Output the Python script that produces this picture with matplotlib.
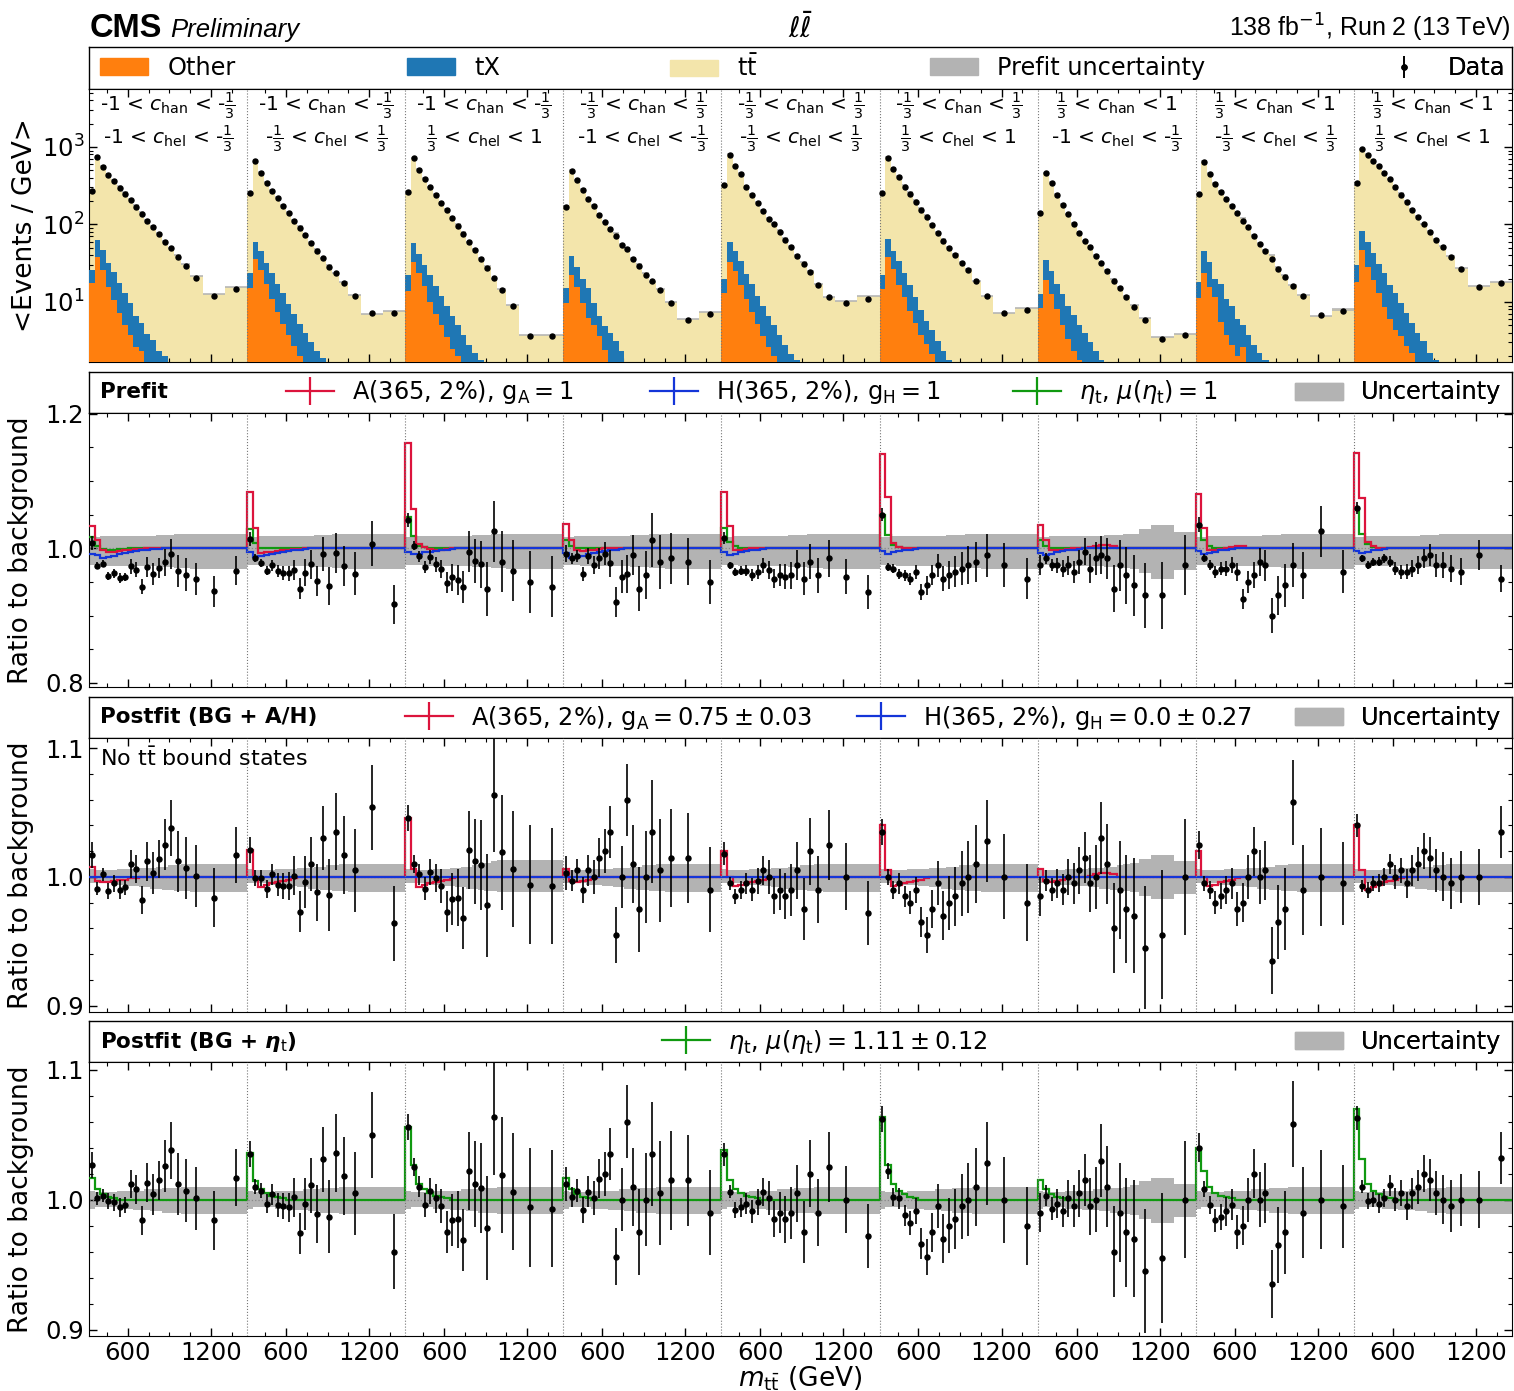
import numpy as np
import matplotlib
matplotlib.use("Agg")
import matplotlib.pyplot as plt
from matplotlib.lines import Line2D
from matplotlib.patches import Patch
from matplotlib.ticker import FixedLocator, MultipleLocator, NullFormatter, FixedFormatter

plt.rcParams['font.family'] = ['DejaVu Sans']
plt.rcParams['mathtext.fontset'] = 'dejavusans'

# ------------------------------------------------------------------ data
mtt_edges = [320, 360, 400, 440, 480, 520, 560, 600, 640, 680, 720, 760, 800,
             845, 890, 935, 985, 1050, 1140, 1300, 1460]
tick_major_gev = [600, 1200]
tick_minor_gev = [450, 750, 900, 1050, 1350]

chan_labels = [r"-1 < $c_\mathrm{han}$ < -$\frac{1}{3}$"] * 3 + \
              [r"-$\frac{1}{3}$ < $c_\mathrm{han}$ < $\frac{1}{3}$"] * 3 + \
              [r"$\frac{1}{3}$ < $c_\mathrm{han}$ < 1"] * 3
chel_labels = [r"-1 < $c_\mathrm{hel}$ < -$\frac{1}{3}$",
               r"-$\frac{1}{3}$ < $c_\mathrm{hel}$ < $\frac{1}{3}$",
               r"$\frac{1}{3}$ < $c_\mathrm{hel}$ < 1"] * 3

# top panel: <events / GeV>
data_top = [
    [273, 736, 557, 435, 361, 298, 248, 207, 170, 137, 112, 92, 75, 60, 49, 38.5, 29.4, 20.6, 11.9, 14.9],
    [253, 666, 466, 340, 273, 218, 173, 139, 111, 90, 73, 58, 46, 36.5, 28.6, 23.4, 17.4, 11.9, 7.1, 7.1],
    [262, 720, 510, 385, 300, 240, 190, 152, 120, 96, 76, 60, 47, 36, 27.5, 20.5, 14.3, 8.9, 3.6, 3.6],
    [170, 494, 375, 279, 211, 173, 134, 108, 88, 71, 54, 48, 36, 29, 22.5, 18.5, 14.3, 9.8, 5.9, 7.0],
    [323, 789, 569, 449, 308, 240, 188, 151, 117, 101, 81, 63, 51, 39, 31, 24.4, 16.6, 11.5, 9.8, 11.0],
    [258, 714, 525, 406, 308, 248, 197, 154, 124, 97, 77, 62, 49, 40, 31.8, 25.8, 18.5, 11.9, 7.1, 7.9],
    [142, 457, 340, 243, 177, 135, 101, 78.5, 61.8, 50.7, 39.2, 31.5, 25.4, 18.8, 15.0, 11.5, 8.7, 5.9, 3.3, 3.75],
    [247, 640, 449, 333, 263, 211, 173, 142, 112, 92, 71, 56, 46, 36, 26.4, 21.2, 16.1, 11.9, 6.7, 7.7],
    [346, 934, 781, 666, 569, 466, 383, 302, 243, 195, 154, 126, 101, 81, 63, 51, 38.5, 26.4, 15.8, 17.4],
]
total_top = [
    [271, 756, 570, 454, 375, 312, 259, 213, 176, 145, 115, 96, 77, 61, 49.5, 40, 30.5, 21.6, 12.7, 15.4],
    [250, 676, 477, 352, 280, 226, 180, 144, 115, 96, 76, 59.5, 48.4, 36.8, 30.3, 23.6, 17.9, 12.4, 7.05, 7.75],
    [252, 717, 516, 396, 304, 246, 196, 160, 125, 101, 81, 60.3, 47.9, 36.9, 29.3, 20.0, 14.6, 9.2, 3.8, 3.8],
    [171, 501, 380, 290, 214, 177, 136, 109, 90, 77, 56.4, 49.9, 36.4, 30.9, 23.4, 18.3, 14.6, 9.95, 6.0, 7.4],
    [318, 809, 590, 464, 318, 250, 195, 155, 121, 106, 84, 66, 53, 40, 32.5, 24.9, 17.3, 11.7, 10.2, 11.8],
    [246, 734, 541, 422, 321, 260, 204, 165, 131, 101, 79, 65, 51, 41.4, 32.8, 26.5, 18.9, 12.0, 7.3, 8.3],
    [146, 464, 349, 249, 182, 138, 105, 80, 62, 52.3, 39.8, 31.8, 25.8, 20.0, 15.4, 12.0, 9.2, 6.3, 3.55, 3.85],
    [239, 650, 460, 345, 271, 218, 177, 147, 121, 97, 74, 57, 47, 40, 28.4, 22.4, 16.5, 12.4, 6.5, 8.0],
    [326, 948, 801, 680, 581, 473, 391, 311, 252, 202, 159, 129, 102.5, 82, 64.6, 52.3, 39.7, 27.4, 16.0, 18.2],
]
other_top = [
    [17.4, 38.5, 26, 15.5, 10.6, 7.2, 5.0, 3.7, 2.6, 2.3, 1, 1, 1, 1, 1, 1, 1, 1, 1, 1],
    [15, 36, 26, 17, 11, 7.5, 5.2, 3.8, 2.7, 2.0, 1, 1, 1, 1, 1, 1, 1, 1, 1, 1],
    [14, 33, 24, 16, 10, 7, 5, 3.5, 2.5, 2.0, 1, 1, 1, 1, 1, 1, 1, 1, 1, 1],
    [9.8, 22, 15.6, 9.6, 6.2, 5.0, 3.6, 2.4, 1, 1, 1, 1, 1, 1, 1, 1, 1, 1, 1, 1],
    [13, 33, 25, 16.5, 11, 7.5, 5.2, 3.6, 2.6, 2.0, 1, 1, 1, 1, 1, 1, 1, 1, 1, 1],
    [14.5, 37.6, 26.4, 16.6, 11.7, 7.7, 5.4, 3.7, 2.9, 2.1, 1, 1, 1, 1, 1, 1, 1, 1, 1, 1],
    [8.3, 19.3, 12.7, 8.1, 5.0, 3.3, 2.3, 1.8, 1, 1, 1, 1, 1, 1, 1, 1, 1, 1, 1, 1],
    [11.3, 23.4, 15.5, 11.7, 5.5, 3.8, 2.8, 2.0, 2.6, 1.5, 1, 1, 1, 1, 1, 1, 1, 1, 1, 1],
    [18.2, 47, 28.6, 19.3, 13, 8.7, 6.0, 4.3, 3.6, 2.7, 2.2, 1, 1, 1, 1, 1, 1, 1, 1, 1],
]
other_tx_top = [
    [25.9, 63, 47, 32, 24.5, 17.7, 13, 9.6, 6.6, 5.3, 3.9, 3.2, 2.3, 2.0, 1, 1, 1, 1, 1, 1],
    [24, 60, 46, 32, 24, 17, 13, 9.5, 7, 5.2, 4, 3, 2.3, 1.9, 1, 1, 1, 1, 1, 1],
    [22, 58, 42, 30, 22, 16, 12, 9, 6.5, 5, 3.7, 2.8, 2.2, 1.8, 1, 1, 1, 1, 1, 1],
    [15, 39, 28.5, 19.5, 15, 9.6, 6.6, 4.9, 4.0, 3.1, 2.3, 1, 1, 1, 1, 1, 1, 1, 1, 1],
    [20, 60, 46, 34, 23, 17, 12, 9, 6.5, 5, 3.8, 2.8, 2.1, 1.8, 1, 1, 1, 1, 1, 1],
    [22.3, 64.5, 46, 34, 23.4, 16.6, 11.5, 7.9, 5.6, 4.3, 3.1, 2.3, 1.8, 1, 1, 1, 1, 1, 1, 1],
    [12.7, 35, 25, 17, 12.5, 8.9, 6.8, 5.1, 4.0, 3.0, 2.3, 1.8, 1, 1, 1, 1, 1, 1, 1, 1],
    [18.2, 46, 33, 19.5, 17, 11, 9, 6, 5, 3.8, 2.8, 2.2, 1.8, 1, 1, 1, 1, 1, 1, 1],
    [30, 82, 60, 42.4, 31, 23.4, 16.6, 13, 9.6, 7.3, 5.4, 4.0, 3.1, 2.2, 1.8, 1, 1, 1, 1, 1],
]

# ratio panels: data / background
ratio_prefit = [
    [1.008, 0.974, 0.977, 0.959, 0.963, 0.956, 0.957, 0.973, 0.968, 0.943, 0.972, 0.962, 0.971, 0.979, 0.992, 0.966, 0.961, 0.954, 0.936, 0.967],
    [1.014, 0.985, 0.978, 0.967, 0.975, 0.966, 0.963, 0.963, 0.968, 0.940, 0.964, 0.976, 0.951, 0.992, 0.944, 0.993, 0.974, 0.962, 1.007, 0.917],
    [1.042, 1.004, 0.988, 0.972, 0.987, 0.976, 0.969, 0.949, 0.957, 0.953, 0.943, 0.995, 0.981, 0.976, 0.940, 1.025, 0.980, 0.967, 0.950, 0.943],
    [0.992, 0.985, 0.988, 0.962, 0.988, 0.975, 0.985, 0.992, 0.978, 0.920, 0.958, 0.962, 0.990, 0.940, 0.960, 1.012, 0.980, 0.985, 0.980, 0.950],
    [1.015, 0.975, 0.965, 0.967, 0.967, 0.960, 0.965, 0.975, 0.968, 0.955, 0.960, 0.958, 0.960, 0.975, 0.955, 0.980, 0.960, 0.985, 0.958, 0.935],
    [1.050, 0.972, 0.970, 0.962, 0.960, 0.955, 0.965, 0.935, 0.945, 0.960, 0.975, 0.955, 0.960, 0.965, 0.970, 0.975, 0.980, 0.990, 0.975, 0.955],
    [0.975, 0.985, 0.975, 0.975, 0.970, 0.975, 0.965, 0.980, 0.995, 0.970, 0.985, 0.990, 0.985, 0.940, 0.975, 0.960, 0.945, 0.930, 0.930, 0.975],
    [1.035, 0.985, 0.975, 0.965, 0.970, 0.970, 0.975, 0.965, 0.925, 0.950, 0.960, 0.980, 0.975, 0.900, 0.930, 0.945, 0.975, 0.960, 1.025, 0.965],
    [1.060, 0.985, 0.975, 0.980, 0.980, 0.985, 0.980, 0.970, 0.965, 0.965, 0.970, 0.975, 0.985, 0.990, 0.975, 0.975, 0.970, 0.965, 0.990, 0.955],
]
ratio_post_ah = [
    [1.017, 0.991, 1.002, 0.989, 0.995, 0.990, 0.992, 1.010, 1.006, 0.982, 1.012, 1.003, 1.014, 1.025, 1.038, 1.012, 1.007, 1.001, 0.984, 1.017],
    [1.021, 0.999, 0.999, 0.991, 1.002, 0.994, 0.993, 0.993, 1.001, 0.973, 0.996, 1.010, 0.988, 1.030, 0.986, 1.035, 1.017, 1.005, 1.054, 0.964],
    [1.046, 1.010, 1.002, 0.991, 1.004, 0.999, 0.993, 0.973, 0.983, 0.984, 0.968, 1.021, 1.012, 1.009, 0.978, 1.064, 1.019, 1.006, 0.994, 0.993],
    [1.003, 0.997, 1.005, 0.990, 1.005, 1.000, 1.015, 1.020, 1.035, 0.955, 1.000, 1.060, 1.010, 0.975, 1.000, 1.035, 1.005, 1.015, 1.015, 0.990],
    [1.018, 0.995, 0.985, 0.990, 0.995, 0.990, 0.997, 1.005, 1.000, 0.985, 0.990, 0.985, 0.990, 1.005, 0.975, 1.020, 0.990, 1.025, 1.000, 0.972],
    [1.035, 1.000, 0.990, 0.995, 0.985, 0.980, 0.990, 0.965, 0.955, 0.975, 0.995, 0.970, 0.980, 0.985, 0.995, 1.000, 1.010, 1.028, 1.000, 0.980],
    [0.985, 0.997, 0.990, 0.995, 0.990, 1.000, 0.995, 1.005, 1.015, 0.995, 1.000, 1.030, 1.010, 0.960, 0.990, 0.975, 0.970, 0.945, 0.955, 1.000],
    [1.025, 0.995, 0.990, 0.980, 0.985, 0.990, 0.995, 0.975, 0.980, 1.000, 1.020, 1.000, 1.005, 0.935, 0.965, 0.975, 1.058, 0.990, 1.000, 0.995],
    [1.040, 0.993, 0.990, 0.995, 0.995, 1.000, 1.010, 1.000, 1.005, 0.995, 1.005, 1.010, 1.020, 1.015, 1.005, 1.000, 0.995, 1.000, 1.000, 1.035],
]
ratio_post_eta = [
    [1.027, 1.001, 1.003, 0.999, 0.998, 0.994, 0.996, 1.012, 1.008, 0.984, 1.013, 1.004, 1.015, 1.026, 1.038, 1.012, 1.007, 1.001, 0.984, 1.017],
    [1.035, 1.010, 1.007, 0.997, 1.004, 0.996, 0.995, 0.994, 1.002, 0.974, 0.997, 1.011, 0.989, 1.031, 0.987, 1.036, 1.018, 1.005, 1.050, 0.960],
    [1.056, 1.025, 1.010, 0.996, 1.007, 1.001, 0.995, 0.975, 0.984, 0.985, 0.969, 1.022, 1.012, 1.009, 0.978, 1.064, 1.019, 1.006, 0.994, 0.993],
    [1.012, 1.002, 1.007, 0.992, 1.006, 1.001, 1.016, 1.020, 1.035, 0.956, 1.000, 1.060, 1.010, 0.975, 1.000, 1.035, 1.005, 1.015, 1.015, 0.990],
    [1.035, 1.006, 0.992, 0.994, 0.997, 0.991, 0.998, 1.006, 1.001, 0.985, 0.990, 0.985, 0.990, 1.005, 0.975, 1.020, 0.990, 1.025, 1.000, 0.972],
    [1.062, 1.022, 1.002, 1.001, 0.988, 0.982, 0.991, 0.966, 0.956, 0.975, 0.995, 0.970, 0.980, 0.985, 0.995, 1.000, 1.010, 1.028, 1.000, 0.980],
    [0.990, 1.003, 0.993, 0.997, 0.991, 1.001, 0.995, 1.005, 1.015, 0.995, 1.000, 1.030, 1.010, 0.960, 0.990, 0.975, 0.970, 0.945, 0.955, 1.000],
    [1.040, 1.008, 0.996, 0.984, 0.987, 0.991, 0.996, 0.975, 0.980, 1.000, 1.020, 1.000, 1.005, 0.935, 0.965, 0.975, 1.058, 0.990, 1.000, 0.995],
    [1.063, 1.010, 0.999, 1.000, 0.997, 1.001, 1.011, 1.000, 1.005, 0.995, 1.005, 1.010, 1.020, 1.015, 1.005, 1.000, 0.995, 1.000, 1.000, 1.032],
]
ratio_err = [
    [0.010, 0.005, 0.005, 0.0065, 0.0065, 0.0075, 0.006, 0.011, 0.011, 0.011, 0.015, 0.016, 0.015, 0.020, 0.022, 0.024, 0.024, 0.024, 0.023, 0.022],
    [0.010, 0.006, 0.006, 0.007, 0.008, 0.009, 0.010, 0.011, 0.015, 0.016, 0.020, 0.021, 0.022, 0.025, 0.028, 0.030, 0.030, 0.032, 0.033, 0.029],
    [0.010, 0.007, 0.008, 0.009, 0.010, 0.011, 0.013, 0.016, 0.020, 0.022, 0.024, 0.030, 0.033, 0.035, 0.040, 0.045, 0.045, 0.045, 0.046, 0.045],
    [0.013, 0.008, 0.009, 0.010, 0.012, 0.013, 0.015, 0.017, 0.020, 0.022, 0.024, 0.028, 0.030, 0.033, 0.036, 0.040, 0.040, 0.038, 0.035, 0.033],
    [0.009, 0.005, 0.006, 0.007, 0.008, 0.009, 0.010, 0.011, 0.013, 0.014, 0.016, 0.018, 0.020, 0.022, 0.024, 0.026, 0.026, 0.027, 0.026, 0.025],
    [0.010, 0.006, 0.007, 0.008, 0.008, 0.009, 0.010, 0.012, 0.014, 0.015, 0.017, 0.019, 0.021, 0.023, 0.025, 0.028, 0.030, 0.032, 0.033, 0.030],
    [0.015, 0.008, 0.009, 0.011, 0.012, 0.014, 0.016, 0.018, 0.020, 0.022, 0.025, 0.028, 0.031, 0.035, 0.038, 0.042, 0.045, 0.048, 0.050, 0.045],
    [0.011, 0.006, 0.007, 0.009, 0.010, 0.011, 0.012, 0.013, 0.015, 0.017, 0.019, 0.021, 0.023, 0.026, 0.029, 0.032, 0.033, 0.035, 0.038, 0.032],
    [0.009, 0.005, 0.006, 0.006, 0.007, 0.007, 0.008, 0.009, 0.010, 0.011, 0.012, 0.013, 0.014, 0.016, 0.017, 0.019, 0.020, 0.020, 0.022, 0.020],
]

# signal / background ratios (leading bins; later bins equal 1)
sig_A_prefit = [
    [1.033, 1.012, 0.997, 0.995, 0.995, 0.996, 0.997, 0.998, 0.999, 0.999],
    [1.083, 1.030, 0.993, 0.994, 0.995, 0.996, 0.997, 0.998, 0.999, 0.999],
    [1.157, 1.059, 1.006, 1.002, 0.999, 0.998, 0.998, 0.999],
    [1.036, 1.012, 0.997, 0.996, 0.997, 0.998, 0.999],
    [1.083, 1.033, 0.997, 0.998, 0.999],
    [1.140, 1.076, 1.008, 1.002],
    [1.035, 1.012, 0.998, 0.997, 0.998, 0.999, 1.0, 1.0, 1.0, 1.002, 1.004, 1.005, 1.005, 1.003],
    [1.080, 1.030, 0.998, 0.998, 0.999, 1.0, 1.002, 1.004, 1.003],
    [1.141, 1.074, 1.010, 1.003],
]
sig_H_prefit = [
    [0.992, 0.990, 0.985, 0.987, 0.989, 0.991, 0.993, 0.995, 0.996, 0.997, 0.998, 0.999, 0.999],
    [0.995, 0.987, 0.988, 0.990, 0.991, 0.993, 0.995, 0.996, 0.997, 0.998, 0.999],
    [0.995, 0.991, 0.992, 0.994, 0.995, 0.996, 0.997, 0.998, 0.999],
    [0.993, 0.986, 0.987, 0.989, 0.991, 0.993, 0.995, 0.996, 0.997, 0.998, 0.999],
    [0.995, 0.990, 0.992, 0.994, 0.996, 0.997, 0.998, 0.999],
    [0.996, 0.992, 0.994, 0.996, 0.997, 0.998, 0.999],
    [0.993, 0.990, 0.992, 0.994, 0.996, 0.997, 0.998, 0.999],
    [0.996, 0.991, 0.993, 0.995, 0.997, 0.998, 0.999],
    [0.996, 0.993, 0.995, 0.997, 0.998, 0.999],
]
sig_eta_prefit = [
    [1.017, 1.003, 0.9985, 0.998, 0.998, 0.999, 0.999],
    [1.028, 1.008, 1.001],
    [1.046, 1.018, 1.004, 1.002, 1.001],
    [1.012, 1.003],
    [1.030, 1.010, 1.003, 1.001],
    [1.049, 1.020, 1.005, 1.002, 1.001],
    [1.012, 1.004, 1.001],
    [1.035, 1.012, 1.003, 1.001],
    [1.057, 1.022, 1.006, 1.002, 1.001],
]
sig_A_postfit = [
    [1.0075, 0.997, 0.996, 0.996, 0.997, 0.998, 0.998, 0.999, 0.999],
    [1.021, 1.000, 0.9925, 0.994, 0.995, 0.996, 0.997, 0.998, 0.999],
    [1.046, 1.0065, 0.9925, 0.994, 0.995, 0.996, 0.997, 0.998, 0.999],
    [1.006, 0.997, 0.996, 0.997, 0.998, 0.999],
    [1.020, 1.000, 0.993, 0.994, 0.995, 0.996, 0.997, 0.998, 0.999],
    [1.040, 1.005, 0.993, 0.994, 0.995, 0.996, 0.997, 0.998, 0.999],
    [1.006, 0.997, 0.996, 0.997, 0.998, 0.999, 1.0, 1.0, 1.0, 1.001, 1.002, 1.003, 1.003, 1.002],
    [1.020, 1.000, 0.993, 0.994, 0.996, 0.997, 0.998, 0.999],
    [1.040, 1.005, 0.990, 0.992, 0.994, 0.996, 0.997, 0.998, 0.999],
]
sig_H_postfit = [[1.0]] * 9
sig_eta_postfit = [
    [1.017, 1.008, 1.004, 1.002, 1.001],
    [1.036, 1.014, 1.008, 1.005, 1.003, 1.002, 1.001],
    [1.056, 1.027, 1.012, 1.008, 1.005, 1.003, 1.002, 1.001],
    [1.017, 1.008, 1.004, 1.002, 1.001],
    [1.038, 1.015, 1.008, 1.005, 1.003, 1.002, 1.001],
    [1.064, 1.027, 1.012, 1.007, 1.004, 1.002, 1.001],
    [1.015, 1.008, 1.004, 1.002, 1.001],
    [1.040, 1.022, 1.010, 1.005, 1.003, 1.002, 1.001],
    [1.070, 1.031, 1.012, 1.007, 1.004, 1.002, 1.001],
]

# uncertainty bands (relative, up / down)
unc_prefit_up = [
    [0.017, 0.017, 0.018, 0.018, 0.018, 0.018, 0.018, 0.018, 0.019, 0.019, 0.019, 0.019, 0.020, 0.020, 0.020, 0.021, 0.021, 0.022, 0.022, 0.022],
] * 6 + [
    [0.017, 0.017, 0.018, 0.018, 0.018, 0.018, 0.018, 0.018, 0.019, 0.019, 0.019, 0.019, 0.020, 0.020, 0.020, 0.021, 0.022, 0.028, 0.035, 0.024],
] + [
    [0.017, 0.017, 0.018, 0.018, 0.018, 0.018, 0.018, 0.018, 0.019, 0.019, 0.019, 0.019, 0.020, 0.020, 0.020, 0.021, 0.021, 0.022, 0.022, 0.022],
] * 2
unc_prefit_dn = [
    [0.025, 0.025, 0.025, 0.026, 0.026, 0.026, 0.026, 0.027, 0.027, 0.027, 0.027, 0.027, 0.028, 0.028, 0.028, 0.029, 0.029, 0.030, 0.030, 0.030],
] * 6 + [
    [0.025, 0.025, 0.025, 0.026, 0.026, 0.026, 0.026, 0.027, 0.027, 0.027, 0.027, 0.027, 0.028, 0.028, 0.028, 0.029, 0.031, 0.036, 0.045, 0.032],
] + [
    [0.025, 0.025, 0.025, 0.026, 0.026, 0.026, 0.026, 0.027, 0.027, 0.027, 0.027, 0.027, 0.028, 0.028, 0.028, 0.029, 0.029, 0.030, 0.030, 0.030],
] * 2
unc_post_ah_up = [
    [0.006, 0.005, 0.005, 0.005, 0.005, 0.006, 0.006, 0.006, 0.006, 0.007, 0.007, 0.007, 0.008, 0.008, 0.009, 0.009, 0.010, 0.010, 0.010, 0.010],
    [0.006, 0.005, 0.005, 0.005, 0.005, 0.006, 0.006, 0.006, 0.006, 0.007, 0.007, 0.007, 0.008, 0.008, 0.009, 0.009, 0.010, 0.010, 0.010, 0.010],
    [0.006, 0.005, 0.005, 0.005, 0.005, 0.006, 0.006, 0.006, 0.007, 0.007, 0.008, 0.008, 0.009, 0.010, 0.011, 0.012, 0.013, 0.013, 0.013, 0.013],
    [0.006, 0.005, 0.005, 0.005, 0.005, 0.006, 0.006, 0.006, 0.006, 0.007, 0.007, 0.007, 0.008, 0.008, 0.009, 0.009, 0.010, 0.010, 0.010, 0.010],
    [0.006, 0.005, 0.005, 0.005, 0.005, 0.006, 0.006, 0.006, 0.006, 0.007, 0.007, 0.007, 0.008, 0.008, 0.009, 0.009, 0.010, 0.010, 0.010, 0.010],
    [0.006, 0.005, 0.005, 0.005, 0.005, 0.006, 0.006, 0.006, 0.006, 0.007, 0.007, 0.007, 0.008, 0.008, 0.009, 0.009, 0.010, 0.010, 0.010, 0.010],
    [0.006, 0.005, 0.005, 0.005, 0.005, 0.006, 0.006, 0.006, 0.006, 0.007, 0.007, 0.007, 0.008, 0.008, 0.009, 0.010, 0.011, 0.014, 0.017, 0.012],
    [0.006, 0.005, 0.005, 0.005, 0.005, 0.006, 0.006, 0.006, 0.006, 0.007, 0.007, 0.007, 0.008, 0.008, 0.009, 0.009, 0.010, 0.010, 0.010, 0.010],
    [0.006, 0.005, 0.005, 0.005, 0.005, 0.006, 0.006, 0.006, 0.006, 0.007, 0.007, 0.007, 0.008, 0.008, 0.009, 0.009, 0.010, 0.010, 0.010, 0.010],
]
unc_post_ah_dn = [
    [0.005, 0.005, 0.005, 0.005, 0.006, 0.006, 0.006, 0.007, 0.007, 0.008, 0.008, 0.009, 0.009, 0.010, 0.010, 0.011, 0.011, 0.012, 0.012, 0.012],
    [0.005, 0.005, 0.005, 0.005, 0.006, 0.006, 0.006, 0.007, 0.007, 0.008, 0.008, 0.009, 0.009, 0.010, 0.010, 0.011, 0.011, 0.012, 0.012, 0.012],
    [0.005, 0.005, 0.005, 0.005, 0.006, 0.006, 0.006, 0.007, 0.007, 0.008, 0.008, 0.009, 0.009, 0.010, 0.011, 0.011, 0.012, 0.012, 0.012, 0.012],
    [0.005, 0.005, 0.005, 0.005, 0.006, 0.006, 0.006, 0.007, 0.007, 0.008, 0.008, 0.009, 0.009, 0.010, 0.010, 0.011, 0.011, 0.012, 0.012, 0.012],
    [0.005, 0.005, 0.005, 0.005, 0.006, 0.006, 0.006, 0.007, 0.007, 0.008, 0.008, 0.009, 0.009, 0.010, 0.010, 0.011, 0.011, 0.012, 0.012, 0.012],
    [0.005, 0.005, 0.005, 0.005, 0.006, 0.006, 0.006, 0.007, 0.007, 0.008, 0.008, 0.009, 0.009, 0.010, 0.010, 0.011, 0.011, 0.012, 0.012, 0.012],
    [0.005, 0.005, 0.005, 0.005, 0.006, 0.006, 0.006, 0.007, 0.007, 0.008, 0.008, 0.009, 0.009, 0.010, 0.010, 0.011, 0.012, 0.015, 0.017, 0.013],
    [0.005, 0.005, 0.005, 0.005, 0.006, 0.006, 0.006, 0.007, 0.007, 0.008, 0.008, 0.009, 0.009, 0.010, 0.010, 0.011, 0.011, 0.012, 0.012, 0.012],
    [0.005, 0.005, 0.005, 0.005, 0.006, 0.006, 0.006, 0.007, 0.007, 0.008, 0.008, 0.009, 0.009, 0.010, 0.010, 0.011, 0.011, 0.012, 0.012, 0.012],
]
unc_post_eta_up = [
    [0.007, 0.006, 0.006, 0.006, 0.006, 0.007, 0.007, 0.007, 0.007, 0.007, 0.008, 0.008, 0.008, 0.009, 0.009, 0.009, 0.010, 0.010, 0.010, 0.010],
] * 6 + [
    [0.007, 0.006, 0.006, 0.006, 0.006, 0.007, 0.007, 0.007, 0.007, 0.007, 0.008, 0.008, 0.008, 0.009, 0.009, 0.010, 0.011, 0.014, 0.017, 0.012],
] + [
    [0.007, 0.006, 0.006, 0.006, 0.006, 0.007, 0.007, 0.007, 0.007, 0.007, 0.008, 0.008, 0.008, 0.009, 0.009, 0.009, 0.010, 0.010, 0.010, 0.010],
] * 2
unc_post_eta_dn = [
    [0.007, 0.006, 0.006, 0.006, 0.006, 0.007, 0.007, 0.007, 0.008, 0.008, 0.008, 0.009, 0.009, 0.010, 0.010, 0.010, 0.011, 0.011, 0.011, 0.011],
] * 6 + [
    [0.007, 0.006, 0.006, 0.006, 0.006, 0.007, 0.007, 0.007, 0.008, 0.008, 0.008, 0.009, 0.009, 0.010, 0.010, 0.011, 0.012, 0.015, 0.018, 0.013],
] + [
    [0.007, 0.006, 0.006, 0.006, 0.006, 0.007, 0.007, 0.007, 0.008, 0.008, 0.008, 0.009, 0.009, 0.010, 0.010, 0.010, 0.011, 0.011, 0.011, 0.011],
] * 2

# ------------------------------------------------------------------ style
C_OTHER = '#ff7f0e'
C_TX = '#1f77b4'
C_TT = '#f3e5ab'
C_UNC = '#b3b3b3'
C_A = '#dc143c'
C_H = '#1435d8'
C_ETA = '#109910'

NBLK = len(data_top)
NBIN = len(mtt_edges) - 1
W = mtt_edges[-1] - mtt_edges[0]


def blk_edges(k):
    return np.asarray(mtt_edges, float) - mtt_edges[0] + k * W


def blk_centers(k):
    e = blk_edges(k)
    return 0.5 * (e[:-1] + e[1:])


def pad1(v):
    v = list(v)
    return v + [1.0] * (NBIN - len(v))


all_edges = np.concatenate([blk_edges(0)] + [blk_edges(k)[1:] for k in range(1, NBLK)])
all_centers = np.concatenate([blk_centers(k) for k in range(NBLK)])


def flat(rows, pad=False):
    return np.concatenate([np.asarray(pad1(r) if pad else r, float) for r in rows])


fig = plt.figure(figsize=(15.14, 13.91), dpi=100)
L = 89 / 1514
Wd = 1423 / 1514


def fy(py):
    return 1 - py / 1391


def add_axes(top_px, bot_px):
    return fig.add_axes([L, fy(bot_px), Wd, (bot_px - top_px) / 1391])


h_top = add_axes(47, 89)
ax_top = add_axes(89, 362)
h2 = add_axes(372, 413)
ax2 = add_axes(413, 687)
h3 = add_axes(697, 738)
ax3 = add_axes(738, 1012)
h4 = add_axes(1021, 1062)
ax4 = add_axes(1062, 1336)

TICK_FS = 17.5
YLAB_FS = 19

for hx in (h_top, h2, h3, h4):
    hx.set_xticks([])
    hx.set_yticks([])
    for s in hx.spines.values():
        s.set_linewidth(1.0)

major_x = [k * W + (g - mtt_edges[0]) for k in range(NBLK) for g in tick_major_gev]
major_lbl = [str(g) for k in range(NBLK) for g in tick_major_gev]
minor_x = [k * W + (g - mtt_edges[0]) for k in range(NBLK) for g in tick_minor_gev]

for ax in (ax_top, ax2, ax3, ax4):
    ax.set_xlim(0, NBLK * W)
    ax.xaxis.set_major_locator(FixedLocator(major_x))
    ax.xaxis.set_minor_locator(FixedLocator(minor_x))
    ax.tick_params(which='both', direction='in', top=True, right=True, labelsize=TICK_FS)
    ax.tick_params(which='major', length=6, width=1)
    ax.tick_params(which='minor', length=3, width=0.8)
    for k in range(1, NBLK):
        ax.axvline(k * W, color='#777777', ls=':', lw=0.8, zorder=6)
    if ax is ax4:
        ax.xaxis.set_major_formatter(FixedFormatter(major_lbl))
    else:
        ax.xaxis.set_major_formatter(NullFormatter())

# ------------------------------------------------------------------ top panel
ax = ax_top
ax.set_yscale('log')
ax.set_ylim(1.68, 5600)
for k in range(NBLK):
    e = blk_edges(k)
    tot = np.asarray(total_top[k], float)
    ax.stairs(tot, e, baseline=1e-3, fill=True, color=C_TT, lw=0, zorder=1)
    ax.stairs(tot * 1.03, e, baseline=tot * 0.97, fill=True, color=C_UNC, alpha=0.8, lw=0, zorder=2)
    ax.stairs(other_tx_top[k], e, baseline=1e-3, fill=True, color=C_TX, lw=0, zorder=3)
    ax.stairs(other_top[k], e, baseline=1e-3, fill=True, color=C_OTHER, lw=0, zorder=4)
    ax.plot(blk_centers(k), data_top[k], 'o', color='k', ms=3.6, zorder=7)
    xc = (k + 0.5) * W
    ax.text(xc, 0.938, chan_labels[k], transform=ax.get_xaxis_transform(), ha='center', va='center',
            fontsize=14.5, zorder=8)
    ax.text(xc, 0.818, chel_labels[k], transform=ax.get_xaxis_transform(), ha='center', va='center',
            fontsize=14.5, zorder=8)
ax.set_ylabel('<Events / GeV>', fontsize=YLAB_FS)
ax.yaxis.set_label_coords(-0.036, 0.5)


# ------------------------------------------------------------------ ratio panels
def ratio_panel(ax, data_rows, unc_up, unc_dn, curves, ylim, major, minor):
    up = flat(unc_up)
    dn = flat(unc_dn)
    ax.stairs(1 + up, all_edges, baseline=1 - dn, fill=True, color=C_UNC, lw=0, zorder=1)
    ax.axhline(1.0, color='#888888', ls=':', lw=0.9, zorder=2)
    for rows, col in curves:
        ax.stairs(flat(rows, pad=True), all_edges, baseline=None, color=col, lw=1.6, zorder=3)
    ax.errorbar(all_centers, flat(data_rows), yerr=flat(ratio_err), fmt='o', color='k', ms=3.6,
                elinewidth=1.2, capsize=0, zorder=7)
    ax.set_ylim(*ylim)
    ax.yaxis.set_major_locator(MultipleLocator(major))
    ax.yaxis.set_minor_locator(MultipleLocator(minor))
    ax.yaxis.set_major_formatter(matplotlib.ticker.FormatStrFormatter('%.1f'))
    ax.set_ylabel('Ratio to background', fontsize=YLAB_FS)
    ax.yaxis.set_label_coords(-0.039, 0.5)


ratio_panel(ax2, ratio_prefit, unc_prefit_up, unc_prefit_dn,
            [(sig_eta_prefit, C_ETA), (sig_A_prefit, C_A), (sig_H_prefit, C_H)],
            (0.794, 1.201), 0.2, 0.05)
ratio_panel(ax3, ratio_post_ah, unc_post_ah_up, unc_post_ah_dn,
            [(sig_A_postfit, C_A), (sig_H_postfit, C_H)],
            (0.895, 1.108), 0.1, 0.02)
ratio_panel(ax4, ratio_post_eta, unc_post_eta_up, unc_post_eta_dn,
            [(sig_eta_postfit, C_ETA)],
            (0.895, 1.106), 0.1, 0.02)
ax3.text(11 / 1423, 0.925, r"No $\mathrm{t\bar{t}}$ bound states", transform=ax3.transAxes,
         fontsize=16, va='center', ha='left')
ax4.set_xlabel(r"$m_{\mathrm{t\bar{t}}}$ (GeV)", fontsize=YLAB_FS, labelpad=0)


# ------------------------------------------------------------------ header legends
def fx(px):
    return (px - 89) / 1423


def entry(hax, px, handle, label, fs, hl=2.0, pad=0.8):
    lg = hax.legend([handle], [label], loc='center left', bbox_to_anchor=(fx(px), 0.5),
                    frameon=False, fontsize=fs, handlelength=hl, handletextpad=pad,
                    borderpad=0, borderaxespad=0)
    hax.add_artist(lg)


def cross(col):
    return (Line2D([], [], color=col, lw=1.6),
            Line2D([], [], color=col, marker='|', ms=20, mew=1.6, ls='none'))


data_handle = (Line2D([], [], color='k', marker='|', ms=16, mew=1.2, ls='none'),
               Line2D([], [], color='k', marker='o', ms=3.6, ls='none'))

FS1 = 17.3
entry(h_top, 100, Patch(color=C_OTHER), 'Other', FS1)
entry(h_top, 407, Patch(color=C_TX), 'tX', FS1)
entry(h_top, 670, Patch(color=C_TT), r"$\mathrm{t\bar{t}}$", FS1)
entry(h_top, 930, Patch(color=C_UNC), 'Prefit uncertainty', FS1)
entry(h_top, 1380, data_handle, 'Data', FS1)

FS2 = 17.3
HL2 = 2.0
PAD2 = 0.75
FSB = 15.5
h2.text(fx(100), 0.5, 'Prefit', transform=h2.transAxes, fontsize=FSB, fontweight='bold', va='center')
entry(h2, 286, cross(C_A), r"A(365, 2%), $\mathrm{g}_\mathrm{A} = 1$", FS2, HL2, PAD2)
entry(h2, 650, cross(C_H), r"H(365, 2%), $\mathrm{g}_\mathrm{H} = 1$", FS2, HL2, PAD2)
entry(h2, 1013, cross(C_ETA), r"$\eta_\mathrm{t}$, $\mu(\eta_\mathrm{t}) = 1$", FS2, HL2, PAD2)
entry(h2, 1295, Patch(color=C_UNC), 'Uncertainty', FS2, HL2, PAD2)

h3.text(fx(100), 0.5, 'Postfit (BG + A/H)', transform=h3.transAxes, fontsize=FSB, fontweight='bold',
        va='center')
entry(h3, 405, cross(C_A), r"A(365, 2%), $\mathrm{g}_\mathrm{A} = 0.75 \pm 0.03$", FS2, HL2, PAD2)
entry(h3, 857, cross(C_H), r"H(365, 2%), $\mathrm{g}_\mathrm{H} = 0.0 \pm 0.27$", FS2, HL2, PAD2)
entry(h3, 1295, Patch(color=C_UNC), 'Uncertainty', FS2, HL2, PAD2)

h4.text(fx(100), 0.5, r"Postfit (BG + $\boldsymbol{\eta}_\mathrm{t}$)", transform=h4.transAxes, fontsize=FSB,
        fontweight='bold', va='center')
entry(h4, 662, cross(C_ETA), r"$\eta_\mathrm{t}$, $\mu(\eta_\mathrm{t}) = 1.11 \pm 0.12$", FS2, HL2, PAD2)
entry(h4, 1295, Patch(color=C_UNC), 'Uncertainty', FS2, HL2, PAD2)

# ------------------------------------------------------------------ title texts
fig.text(90 / 1514, fy(37), 'CMS', fontsize=23.5, fontweight='bold', family='Liberation Sans', va='baseline')
fig.text(170 / 1514, fy(37), 'Preliminary', fontsize=18.5, style='italic', family='Liberation Sans',
         va='baseline')
fig.text(800.5 / 1514, fy(37), r"$\ell\bar{\ell}$", fontsize=20, ha='center', va='baseline')
fig.text(1511 / 1514, fy(37), r"138 fb$^{-1}$, Run 2 (13 TeV)", fontsize=18, family='Liberation Sans',
         ha='right', va='baseline')

fig.savefig('out.png', dpi=100)
